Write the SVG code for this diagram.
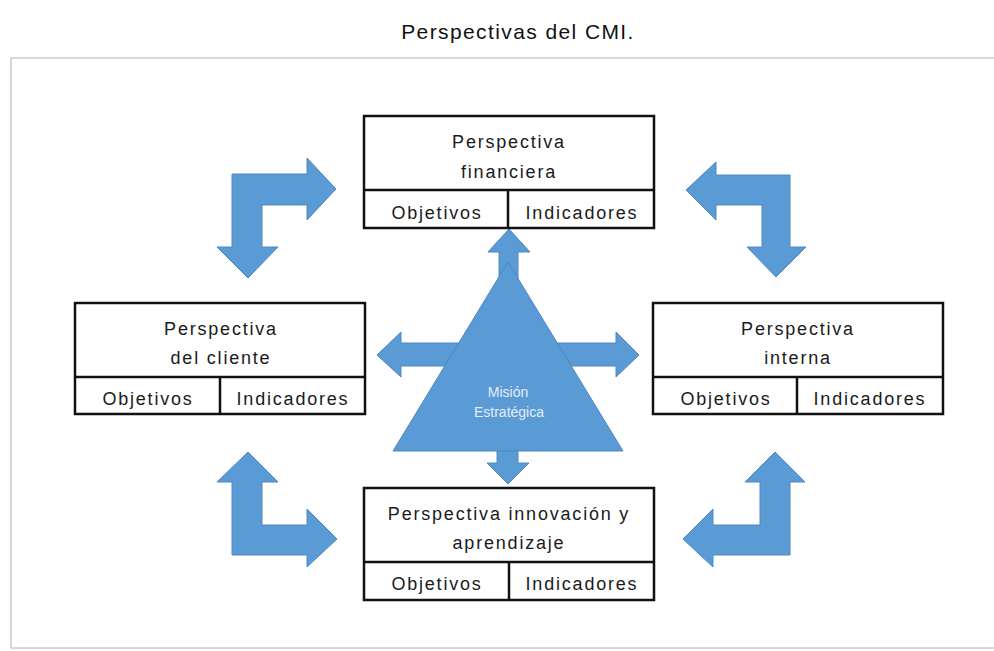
<svg xmlns="http://www.w3.org/2000/svg" width="994" height="651" viewBox="0 0 994 651">
<defs>
<style>
.bx{fill:#fff;stroke:#111;stroke-width:2.5}
.ln{stroke:#111;stroke-width:2.5;fill:none}
.t{font-family:"Liberation Sans",Arial,sans-serif;font-size:18px;fill:#1a1a1a;text-anchor:middle;letter-spacing:1.8px}
.ar{fill:#5b9bd5;stroke:#4f88c0;stroke-width:1}
.tri{fill:#5b9bd5;stroke:#4f88c0;stroke-width:1}
.tt{font-family:"Liberation Sans",Arial,sans-serif;font-size:14px;fill:#e4edf8;text-anchor:middle}
.title{font-family:"Liberation Sans",Arial,sans-serif;font-size:21px;fill:#111;text-anchor:middle;letter-spacing:1.4px}
</style>
</defs>
<rect width="994" height="651" fill="#fff"/>
<text class="title" x="518" y="39">Perspectivas del CMI.</text>
<rect x="11" y="58" width="1000" height="590" fill="#fff" stroke="#cccccc" stroke-width="1.5"/>

<g id="connectors">
<polygon class="ar" points="232,174 307,174 307,158 336,189 307,220 307,205 262,205 262,247 278,247 248,278 217,247 232,247"/>
<polygon class="ar" points="790,175 716,175 716,162 686,190 716,220 716,205 762,205 762,247 747,247 776,277 806,247 790,247"/>
<polygon class="ar" points="232,482 217,482 248,452 278,482 262,482 262,525 307,525 307,509 337,539 307,567 307,555 232,555"/>
<polygon class="ar" points="790,482 805,482 775,452 745,482 760,482 760,525 713,525 713,509 683,539 713,567 713,555 790,555"/>
<polygon class="ar" points="499,300 499,252 488,252 509,229 530,252 518,252 518,300"/>
<polygon class="ar" points="470,343 401,343 401,332 377,355 401,377 401,366 470,366"/>
<polygon class="ar" points="550,343 616,343 616,332 639,355 616,377 616,366 550,366"/>
<polygon class="ar" points="497,440 497,463 487,463 508,484 529,463 518,463 518,440"/>
</g>

<g id="mision">
<polygon class="tri" points="508,262 623,451 393,451"/>
<text class="tt" x="508" y="397">Misión</text>
<text class="tt" x="509" y="417">Estratégica</text>
</g>

<g id="financiera">
<rect class="bx" x="364" y="116" width="290" height="112"/>
<line class="ln" x1="364" y1="190" x2="654" y2="190"/>
<line class="ln" x1="508" y1="190" x2="508" y2="228"/>
<text class="t" x="509" y="148">Perspectiva</text>
<text class="t" x="509" y="178">financiera</text>
<text class="t" x="437" y="219">Objetivos</text>
<text class="t" x="582" y="219">Indicadores</text>
</g>

<g id="cliente">
<rect class="bx" x="75" y="303" width="290" height="111"/>
<line class="ln" x1="75" y1="377" x2="365" y2="377"/>
<line class="ln" x1="220" y1="377" x2="220" y2="414"/>
<text class="t" x="221" y="335">Perspectiva</text>
<text class="t" x="221" y="364">del cliente</text>
<text class="t" x="148" y="405">Objetivos</text>
<text class="t" x="293" y="405">Indicadores</text>
</g>

<g id="interna">
<rect class="bx" x="653" y="303" width="290" height="111"/>
<line class="ln" x1="653" y1="377" x2="943" y2="377"/>
<line class="ln" x1="797" y1="377" x2="797" y2="414"/>
<text class="t" x="798" y="335">Perspectiva</text>
<text class="t" x="798" y="364">interna</text>
<text class="t" x="726" y="405">Objetivos</text>
<text class="t" x="870" y="405">Indicadores</text>
</g>

<g id="innovacion">
<rect class="bx" x="364" y="488" width="290" height="112"/>
<line class="ln" x1="364" y1="562" x2="654" y2="562"/>
<line class="ln" x1="509" y1="562" x2="509" y2="600"/>
<text class="t" x="509" y="520">Perspectiva innovación y</text>
<text class="t" x="509" y="549">aprendizaje</text>
<text class="t" x="437" y="590">Objetivos</text>
<text class="t" x="582" y="590">Indicadores</text>
</g>
</svg>
